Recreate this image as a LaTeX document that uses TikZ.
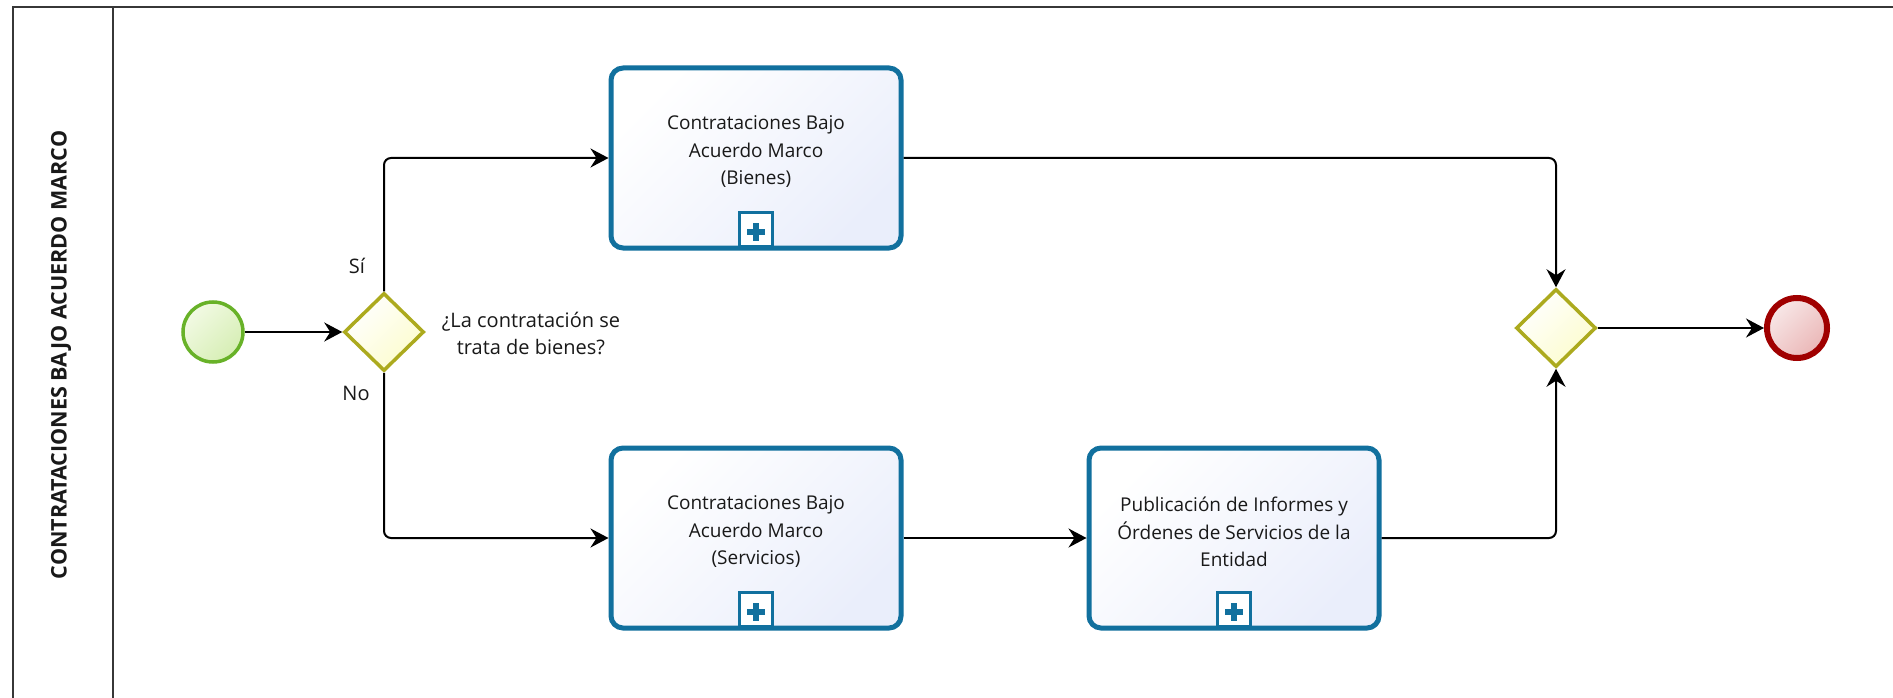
\documentclass[tikz,border=0pt]{standalone}
\usepackage{fontspec}
\setmainfont{Open Sans}
\usetikzlibrary{shapes.geometric,arrows.meta}
\definecolor{taskblue}{RGB}{17,112,158}
\definecolor{taskfill}{RGB}{234,238,251}
\definecolor{gwborder}{RGB}{172,170,30}
\definecolor{gwfill}{RGB}{252,252,205}
\definecolor{stborder}{RGB}{104,178,40}
\definecolor{sttop}{RGB}{242,250,228}
\definecolor{stfill}{RGB}{214,238,180}
\definecolor{enborder}{RGB}{160,0,0}
\definecolor{entop}{RGB}{248,232,232}
\definecolor{enfill}{RGB}{234,182,182}
\definecolor{poolline}{RGB}{55,55,55}
\definecolor{txt}{RGB}{25,25,25}
\tikzset{
  pool/.style={draw=poolline, line width=2.5pt},
  taskbox/.style={draw=taskblue, line width=5pt, rounded corners=12pt,
    minimum width=290pt, minimum height=180pt, inner sep=0pt,
    top color=white, bottom color=taskfill, shading angle=45},
  tasklabel/.style={align=center, font=\fontsize{19}{27.5}\selectfont, text=txt, yshift=6pt},
  marker/.style={draw=taskblue, line width=3pt, fill=white, minimum width=33pt,
    minimum height=34pt, inner sep=0pt, anchor=south,
    path picture={\draw[taskblue, line width=6pt]
      ([xshift=-9pt,yshift=-2pt]path picture bounding box.center) -- ([xshift=9pt,yshift=-2pt]path picture bounding box.center)
      ([yshift=-11pt]path picture bounding box.center) -- ([yshift=7pt]path picture bounding box.center);}},
  gateway/.style={diamond, draw=gwborder, line width=3.5pt, inner sep=0pt,
    minimum width=80pt, minimum height=78pt, top color=white, bottom color=gwfill, shading angle=45},
  startev/.style={circle, draw=stborder, line width=3.5pt, minimum size=60pt, inner sep=0pt,
    top color=sttop, bottom color=stfill, shading angle=45},
  endev/.style={circle, draw=enborder, line width=6pt, minimum size=60pt, inner sep=0pt,
    top color=entop, bottom color=enfill, shading angle=45},
  flow/.style={draw=black, line width=2pt, rounded corners=7pt,
    -{Stealth[length=18pt,width=19pt,inset=6pt]}},
  plain/.style={font=\fontsize{20}{27}\selectfont, text=txt, align=center, inner sep=0pt},
}
\begin{document}
\begin{tikzpicture}[x=1pt,y=-1pt]
\useasboundingbox (0,0) rectangle (1893,698);
\fill[white] (0,0) rectangle (1893,698);
% pool and lane
\draw[pool] (13,698) -- (13,7) -- (1893,7);
\draw[pool] (113,7) -- (113,698);
\node[rotate=90, font=\bfseries\fontsize{21.5}{25}\selectfont, text=txt] (lane) at (61,355) {CONTRATACIONES BAJO ACUERDO MARCO};
% events and gateways
\node[startev] (start) at (213,332) {};
\node[gateway] (g1) at (384,332) {};
\node[plain] (q) at (531,333) {¿La contratación se\\trata de bienes?};
\node[gateway] (g2) at (1556,328) {};
\node[endev] (end) at (1797,328) {};
% tasks
\node[taskbox, label={[tasklabel]center:{Contrataciones Bajo\\Acuerdo Marco\\(Bienes)}}] (b1) at (756,158) {};
\node[taskbox, label={[tasklabel]center:{Contrataciones Bajo\\Acuerdo Marco\\(Servicios)}}] (s1) at (756,538) {};
\node[taskbox, label={[tasklabel]center:{Publicación de Informes y\\Órdenes de Servicios de la\\Entidad}}] (p1) at (1234,538) {};
\node[marker] (mb) at ([yshift=2.5pt]b1.south) {};
\node[marker] (ms) at ([yshift=2.5pt]s1.south) {};
\node[marker] (mp) at ([yshift=2.5pt]p1.south) {};
% flows
\draw[flow] (start) -- (g1);
\draw[flow] (g1.north) |- (b1.west);
\draw[flow] (g1.south) |- (s1.west);
\draw[flow] (s1) -- (p1);
\draw[flow] (b1.east) -| (g2.north);
\draw[flow] (p1.east) -| (g2.south);
\draw[flow] (g2) -- (end);
% branch labels
\node[plain] (si) at (357,266) {Sí};
\node[plain] (no) at (356,393) {No};
\end{tikzpicture}
\end{document}
